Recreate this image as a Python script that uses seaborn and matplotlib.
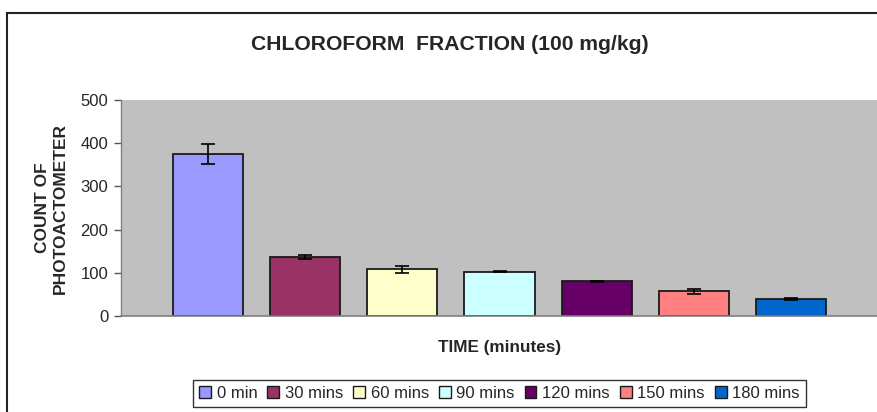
import matplotlib
matplotlib.use("Agg")
import matplotlib.pyplot as plt
from matplotlib.patches import Rectangle, Patch
import seaborn as sns
import pandas as pd

categories = ["0 min", "30 mins", "60 mins", "90 mins", "120 mins", "150 mins", "180 mins"]
values = [375, 136, 108, 103, 80, 57, 40]
errors = [23, 5, 8, 1, 2, 6, 2]
colors = ["#9999FF", "#993366", "#FFFFCC", "#CCFFFF", "#660066", "#FF8080", "#0066CC"]
yticks = [0, 100, 200, 300, 400, 500]

sns.set_theme(style="white")
plt.rcParams["font.family"] = ["Liberation Sans", "DejaVu Sans"]

df = pd.DataFrame({"time": categories, "count": values})

fig = plt.figure(figsize=(8.78, 4.12), dpi=100)
ax = fig.add_axes([121 / 878, 1 - 316 / 412, 1 - 121 / 878, (316 - 100) / 412])
ax.set_facecolor("#C0C0C0")

sns.barplot(data=df, x="time", y="count", hue="time", palette=colors,
            order=categories, hue_order=categories, dodge=False, legend=False,
            saturation=1, width=0.72, edgecolor="#1a1a1a", linewidth=1.3, ax=ax)
ax.errorbar(x=list(range(len(categories))), y=values, yerr=errors, fmt="none",
            ecolor="black", elinewidth=1.2, capsize=5, capthick=1.2, zorder=5)

ax.set_xlim(-0.89, 6.89)
ax.set_ylim(0, 500)
ax.set_yticks(yticks)
ax.set_yticklabels([str(t) for t in yticks], fontsize=12)
ax.set_xticks([])
ax.tick_params(axis="y", direction="out", length=5, width=1, color="#555555", pad=4, left=True)
for s in ["top", "right"]:
    ax.spines[s].set_visible(False)
ax.spines["left"].set_color("#808080")
ax.spines["bottom"].set_color("#808080")
ax.spines["left"].set_linewidth(1)
ax.spines["bottom"].set_linewidth(1.2)

ax.set_xlabel("TIME (minutes)", fontsize=12.3, fontweight="bold", labelpad=17)
ax.set_ylabel("COUNT OF\nPHOTOACTOMETER", fontsize=12.5, fontweight="bold", labelpad=9,
              linespacing=1.3)

fig.text(450 / 878, 1 - 45 / 412, "CHLOROFORM  FRACTION (100 mg/kg)", ha="center", va="center",
         fontsize=15.2, fontweight="bold")

handles = [Patch(facecolor=c, edgecolor="#1a1a1a", linewidth=1) for c in colors]
leg = fig.legend(handles, categories, loc="upper center", ncol=7,
                 bbox_to_anchor=(499.5 / 878, 1 - 380 / 412), frameon=True, fancybox=False,
                 fontsize=12, handlelength=0.7, handleheight=0.7, handletextpad=0.35,
                 columnspacing=0.6, borderpad=0.35, borderaxespad=0)
leg.get_frame().set_edgecolor("black")
leg.get_frame().set_linewidth(1)

fig.add_artist(Rectangle((7 / 878, -0.2), 1.2, 1.2 - 13 / 412, transform=fig.transFigure,
                         fill=False, edgecolor="#222222", linewidth=1.5))

fig.savefig("out.png", dpi=100)
